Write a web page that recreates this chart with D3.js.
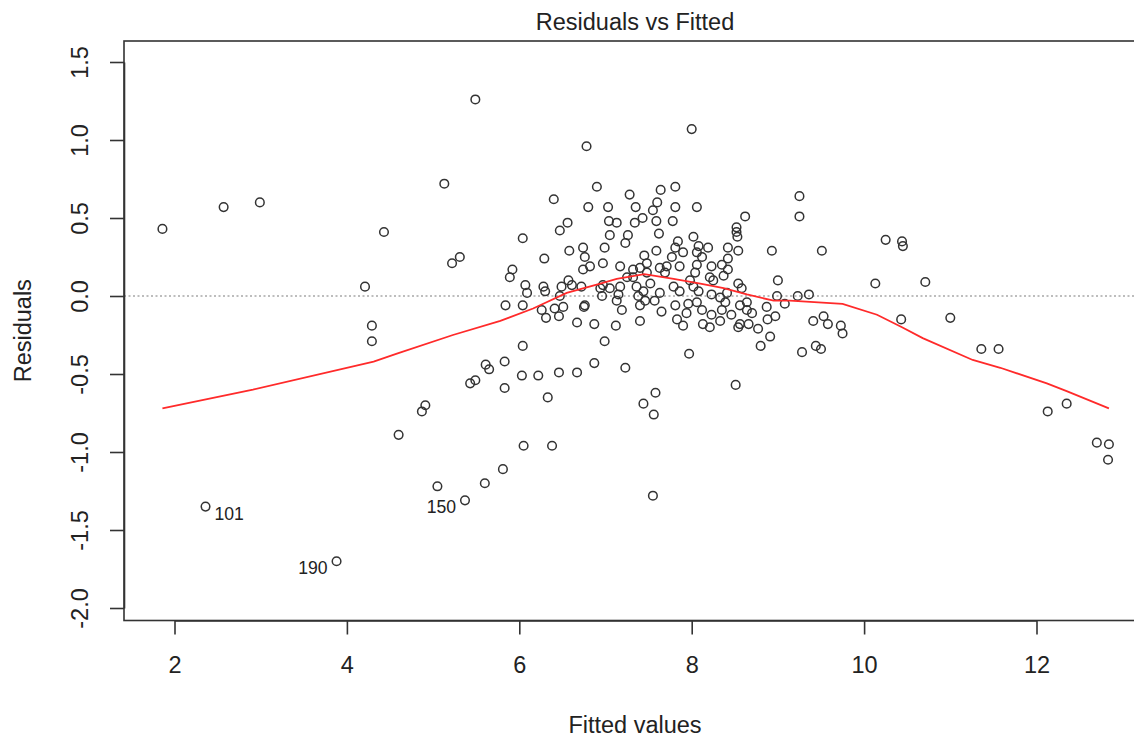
<!DOCTYPE html>
<html>
<head>
<meta charset="utf-8">
<script src="https://cdn.jsdelivr.net/npm/d3@7"></script>
<style>
  html, body { margin: 0; padding: 0; background: #fff; }
  svg { display: block; }
  text { font-family: "Liberation Sans", Arial, sans-serif; fill: #222; }
</style>
</head>
<body>
<svg id="chart" width="1134" height="738"></svg>
<script>
// ---------- data ----------
const chartTitle = "Residuals vs Fitted";
const xLabel = "Fitted values";
const yLabel = "Residuals";
const xTicks = [2, 4, 6, 8, 10, 12];
const yTicks = [-2.0, -1.5, -1.0, -0.5, 0.0, 0.5, 1.0, 1.5];

// [fitted, residual]
const residualPoints = [
  [1.86,0.43],[2.57,0.57],[2.99,0.60],[4.43,0.41],[4.21,0.06],[4.29,-0.19],[4.29,-0.29],[5.22,0.21],[5.31,0.25],[5.84,-0.06],
  [5.89,0.12],[5.92,0.17],[5.83,-0.42],[5.61,-0.44],[5.65,-0.47],[5.43,-0.56],[5.49,-0.54],[5.83,-0.59],[4.87,-0.74],[4.91,-0.70],
  [4.60,-0.89],[5.81,-1.11],[5.60,-1.20],[5.05,-1.22],[5.37,-1.31],[2.36,-1.35],[3.88,-1.70],[6.05,-0.96],[6.38,-0.96],[7.55,-1.28],
  [5.49,1.26],[8.00,1.07],[6.78,0.96],[5.13,0.72],[9.25,0.64],[6.40,0.62],
  [6.04,-0.06],[6.26,-0.09],[6.41,-0.08],[6.31,-0.14],[6.46,-0.13],[6.75,-0.07],[6.76,-0.06],[6.67,-0.17],[6.87,-0.18],[7.19,-0.09],
  [7.12,-0.19],[7.40,-0.16],[7.40,-0.06],[6.99,-0.29],[6.04,-0.32],[6.03,-0.51],[6.22,-0.51],[6.46,-0.49],[6.67,-0.49],[6.87,-0.43],
  [7.23,-0.46],[6.33,-0.65],[7.44,-0.69],[7.56,-0.76],
  [7.97,-0.37],[8.51,-0.57],[7.58,-0.62],[8.80,-0.32],[8.91,-0.26],[8.77,-0.21],[8.88,-0.15],[8.97,-0.13],[7.65,-0.10],[7.81,-0.06],
  [7.83,-0.15],[7.90,-0.19],[7.96,-0.05],[7.94,-0.11],[8.12,-0.09],[8.13,-0.18],[8.21,-0.20],[8.23,-0.12],[8.33,-0.16],[8.35,-0.09],
  [8.46,-0.12],[8.54,-0.20],[8.56,-0.18],[8.66,-0.18],[8.70,-0.11],[8.87,-0.07],[9.08,-0.05],[8.56,-0.06],[8.64,-0.09],[8.39,-0.04],
  [8.06,-0.04],
  [9.25,0.51],[9.51,0.29],[10.25,0.36],[10.44,0.35],[10.45,0.32],[10.13,0.08],[10.71,0.09],[9.00,0.10],[9.23,0.00],[9.36,0.01],
  [9.41,-0.16],[9.53,-0.13],[9.58,-0.18],[9.73,-0.19],[9.75,-0.24],[9.28,-0.36],[9.44,-0.32],[9.50,-0.34],[10.43,-0.15],[11.00,-0.14],
  [11.36,-0.34],[11.56,-0.34],[12.13,-0.74],[12.35,-0.69],[12.70,-0.94],[12.84,-0.95],[12.83,-1.05],
  [6.90,0.70],[7.28,0.65],[7.64,0.68],[7.81,0.70],[7.60,0.60],[6.80,0.57],[7.03,0.57],[7.35,0.57],[7.55,0.55],[7.81,0.57],[8.06,0.57],
  [7.04,0.48],[7.13,0.47],[7.43,0.50],[7.34,0.47],[6.47,0.42],[6.56,0.47],[7.05,0.39],[7.26,0.39],[7.23,0.34],[6.04,0.37],
  [6.99,0.31],[6.58,0.29],[6.74,0.31],[6.76,0.25],[6.74,0.17],[6.82,0.19],[6.29,0.24],[6.97,0.21],[7.45,0.26],[7.17,0.19],
  [7.32,0.17],[7.40,0.18],[7.48,0.21],[6.07,0.07],[6.09,0.02],[6.28,0.06],[6.30,0.03],[6.49,0.06],[6.57,0.10],[6.61,0.07],
  [6.72,0.06],[6.94,0.05],[6.97,0.07],[7.05,0.05],[7.15,0.01],[7.17,0.06],[6.96,0.00],[6.47,0.00],[6.51,-0.07],[7.32,0.12],
  [7.48,0.15],[7.36,0.06],[7.44,0.03],[7.38,0.00],[7.46,-0.03],[7.25,0.12],[7.13,-0.03],
  [7.59,0.48],[7.78,0.48],[7.62,0.40],[8.62,0.51],[8.52,0.44],[8.52,0.41],[8.53,0.38],[8.93,0.29],[8.02,0.38],[7.84,0.35],
  [7.81,0.31],[7.59,0.29],[8.08,0.32],[8.06,0.28],[8.19,0.31],[8.42,0.31],[8.54,0.29],[7.77,0.25],[7.90,0.28],[8.12,0.25],
  [8.42,0.24],[8.35,0.20],[8.42,0.17],[8.23,0.19],[8.06,0.20],[7.63,0.18],[7.71,0.19],[7.69,0.15],[7.86,0.19],[8.04,0.15],
  [7.98,0.10],[8.21,0.12],[8.25,0.10],[8.54,0.08],[8.58,0.05],[8.37,0.13],[7.79,0.06],[7.86,0.03],[8.02,0.06],[8.08,0.03],
  [7.52,0.08],[7.63,0.02],[7.57,-0.03],[8.23,0.01],[8.33,-0.01],[8.41,0.02],[8.64,-0.04],[8.99,0.00]
];

// labelled observations: index into residualPoints, id text, side
const labelIndex = [25, 26, 24];
const labelText = ["101", "190", "150"];
const labelSide = ["right", "left", "left"];

// smoother (red line)
const smoothFitted = [1.86, 2.91, 4.31, 4.58, 5.23, 5.78, 6.16, 6.55, 6.94, 7.13, 7.45, 7.79, 8.10, 8.37, 8.64, 8.95, 9.14, 9.75, 10.15, 10.44, 10.68, 11.26, 11.58, 12.12, 12.35, 12.84];
const smoothResid  = [-0.72, -0.60, -0.42, -0.37, -0.25, -0.16, -0.08, 0.02, 0.08, 0.11, 0.14, 0.11, 0.08, 0.05, 0.01, -0.03, -0.03, -0.05, -0.12, -0.20, -0.27, -0.41, -0.46, -0.56, -0.61, -0.72];

// ---------- layout ----------
const plotLeft = 124, plotRight = 1146, plotTop = 41, plotBottom = 620.5;

const x = d3.scaleLinear().domain([2, 12]).range([174.5, 1036.5]);
const y = d3.scaleLinear().domain([-2, 1.5]).range([608, 62]);

const svg = d3.select("#chart");
const ink = "#333";
const FS = 23.5;

// zero reference line (dotted)
svg.append("line")
  .attr("x1", plotLeft).attr("x2", plotRight)
  .attr("y1", y(0)).attr("y2", y(0))
  .attr("stroke", "#a8a8a8").attr("stroke-width", 1.3)
  .attr("stroke-dasharray", "2,2.5");

// points
svg.append("g").selectAll("circle")
  .data(residualPoints)
  .join("circle")
  .attr("cx", d => x(d[0]))
  .attr("cy", d => y(d[1]))
  .attr("r", 4.3)
  .attr("fill", "none")
  .attr("stroke", ink)
  .attr("stroke-width", 1.5);

// smoother
const smoothData = smoothFitted.map((v, i) => [v, smoothResid[i]]);
svg.append("path")
  .datum(smoothData)
  .attr("d", d3.line().x(d => x(d[0])).y(d => y(d[1])).curve(d3.curveLinear))
  .attr("fill", "none")
  .attr("stroke", "#ff2a2a")
  .attr("stroke-width", 1.8);

// point labels
labelIndex.forEach((idx, i) => {
  const p = residualPoints[idx];
  const right = labelSide[i] === "right";
  svg.append("text")
    .attr("x", x(p[0]) + (right ? 9 : -9))
    .attr("y", y(p[1]) + 13)
    .attr("text-anchor", right ? "start" : "end")
    .attr("font-size", 17.6)
    .text(labelText[i]);
});

// frame
svg.append("rect")
  .attr("x", plotLeft).attr("y", plotTop)
  .attr("width", plotRight - plotLeft).attr("height", plotBottom - plotTop)
  .attr("fill", "none").attr("stroke", ink).attr("stroke-width", 1.6);

// x axis
const gx = svg.append("g")
  .attr("transform", `translate(0,${plotBottom})`)
  .call(d3.axisBottom(x).tickValues(xTicks).tickSize(14).tickSizeOuter(0).tickFormat(d3.format("d")));
gx.select(".domain").attr("stroke", ink).attr("stroke-width", 1.6);
gx.selectAll(".tick line").attr("stroke", ink).attr("stroke-width", 1.6);
gx.selectAll(".tick text")
  .attr("y", 673 - plotBottom).attr("dy", null)
  .attr("font-size", FS).attr("font-family", "Liberation Sans, Arial, sans-serif")
  .attr("fill", "#222");

// y axis
const gy = svg.append("g")
  .attr("transform", `translate(${plotLeft},0)`)
  .call(d3.axisLeft(y).tickValues(yTicks).tickSize(14).tickSizeOuter(0).tickFormat(d3.format(".1f")));
gy.select(".domain").attr("stroke", ink).attr("stroke-width", 1.6);
gy.selectAll(".tick line").attr("stroke", ink).attr("stroke-width", 1.6);
gy.selectAll(".tick text").remove();
gy.selectAll(".tick").append("text")
  .attr("transform", `translate(${88 - plotLeft},0) rotate(-90)`)
  .attr("text-anchor", "middle")
  .attr("font-size", FS)
  .attr("font-family", "Liberation Sans, Arial, sans-serif")
  .attr("fill", "#222")
  .text(d => d3.format(".1f")(d).replace("−", "-"));

// title and axis labels
const midX = (plotLeft + plotRight) / 2;
svg.append("text").attr("x", midX).attr("y", 30).attr("text-anchor", "middle")
  .attr("font-size", FS).text(chartTitle);
svg.append("text").attr("x", midX).attr("y", 733).attr("text-anchor", "middle")
  .attr("font-size", FS).text(xLabel);
svg.append("text")
  .attr("transform", `translate(31,${(plotTop + plotBottom) / 2}) rotate(-90)`)
  .attr("text-anchor", "middle")
  .attr("font-size", FS).text(yLabel);
</script>
</body>
</html>
